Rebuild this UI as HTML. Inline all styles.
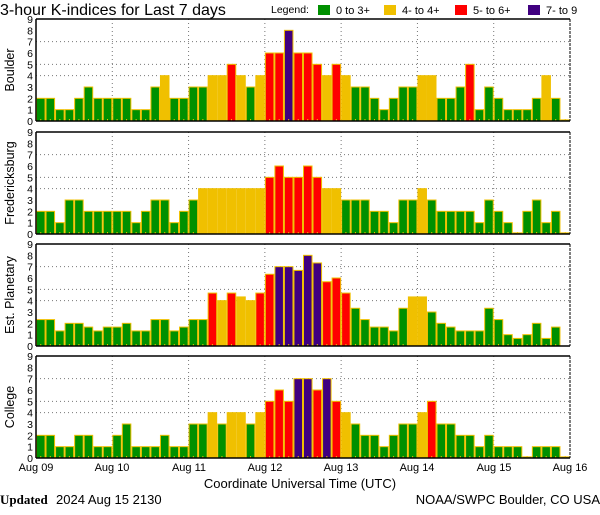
<!DOCTYPE html>
<html><head><meta charset="utf-8"><style>
body{margin:0;background:#fff;}
svg text{font-family:"Liberation Sans",sans-serif;}
</style></head><body>
<svg id="s" width="600" height="510" xmlns="http://www.w3.org/2000/svg">
<text x="0" y="15" font-size="16">3-hour K-indices for Last 7 days</text>
<text x="271" y="13" font-size="10.5">Legend:</text>
<rect x="318" y="5" width="12" height="10" fill="#009000"/><text x="336" y="14" font-size="11">0 to 3+</text>
<rect x="384" y="5" width="12" height="10" fill="#f0c000"/><text x="402" y="14" font-size="11">4- to 4+</text>
<rect x="455" y="5" width="12" height="10" fill="#ff0000"/><text x="473" y="14" font-size="11">5- to 6+</text>
<rect x="528" y="5" width="12" height="10" fill="#400080"/><text x="546" y="14" font-size="11">7- to 9</text>
<g id="g"></g>
<g font-size="11" text-anchor="middle">
<text x="36" y="471">Aug 09</text><text x="112" y="471">Aug 10</text><text x="189" y="471">Aug 11</text><text x="265" y="471">Aug 12</text><text x="341" y="471">Aug 13</text><text x="417" y="471">Aug 14</text><text x="494" y="471">Aug 15</text><text x="570" y="471">Aug 16</text>
</g>
<text x="300" y="488" font-size="13" text-anchor="middle">Coordinate Universal Time (UTC)</text>
<text x="0" y="504" font-size="13" font-family="Liberation Serif" font-weight="bold" style="font-family:'Liberation Serif',serif">Updated</text>
<text x="56" y="504" font-size="13">2024 Aug 15 2130</text>
<text x="600" y="504" font-size="13" text-anchor="end">NOAA/SWPC Boulder, CO USA</text>
</svg>
<script>
var D=[
["Boulder",[2,2,1,1,2,3,2,2, 2,2,1,1,3,4,2,2, 3,3,4,4,5,4,3,4, 6,6,8,6,6,5,4,5, 4,3,3,2,1,2,3,3, 4,4,2,2,3,5,1,3, 2,1,1,1,2,4,2,0.1]],
["Fredericksburg",[2,2,1,3,3,2,2,2, 2,2,1,2,3,3,1,2, 3,4,4,4,4,4,4,4, 5,6,5,5,6,5,4,4, 3,3,3,2,2,1,3,3, 4,3,2,2,2,2,1,3, 2,1,0.1,2,3,1,2,0.1]],
["Est. Planetary",[2.33,2.33,1.33,2,2,1.67,1.33,1.67, 1.67,2,1.33,1.33,2.33,2.33,1.33,1.67, 2.33,2.33,4.67,4,4.67,4.33,4,4.67, 6.33,7,7,6.67,8,7.33,5.67,6, 4.67,3.33,2.33,1.67,1.67,1.33,3.33,4.33, 4.33,3,2,1.67,1.33,1.33,1.33,3.33, 2.33,1,0.67,1,2,0.67,1.67,0]],
["College",[2,2,1,1,2,2,1,1, 2,3,1,1,1,2,1,1, 3,3,4,3,4,4,3,4, 5,6,5,7,7,6,7,5, 4,3,2,2,1,2,3,3, 4,5,3,3,2,2,1,2, 1,1,1,0.1,1,1,1,0.1]]];
var tops=[19,132,244,356],H=102,L=36,R=570,bw=(R-L)/56,u=H/9,s="";
D.forEach(function(p,k){var t=tops[k],b=t+H;
 [7,5,4].forEach(function(v){var y=b-v*u;s+='<line x1="'+L+'" x2="'+R+'" y1="'+y+'" y2="'+y+'" stroke="#777" stroke-dasharray="1,3"/>';});
 for(var d=1;d<7;d++){var x=L+d*8*bw;s+='<line x1="'+x+'" x2="'+x+'" y1="'+t+'" y2="'+b+'" stroke="#777" stroke-dasharray="1,3"/>';}
 p[1].forEach(function(v,i){if(v<=0)return;var c=v>=6.67?"#400080":v>=4.67?"#ff0000":v>=3.67?"#f0c000":"#009000";
  var x=L+i*bw,h=v*u;s+='<rect x="'+(x+0.5)+'" y="'+(b-h)+'" width="'+(bw-1)+'" height="'+h+'" fill="'+c+'" stroke="#f0c000" stroke-width="1"/>';
  s+='<rect x="'+(x+bw/2-0.5)+'" y="'+(b-2)+'" width="1" height="2" fill="#f0c000"/>';});
 s+='<line x1="'+L+'" x2="'+R+'" y1="'+t+'" y2="'+t+'" stroke="#000" stroke-width="1.5"/>';
 s+='<line x1="'+L+'" x2="'+R+'" y1="'+b+'" y2="'+b+'" stroke="#000" stroke-width="1.5"/>';
 s+='<line x1="'+L+'" x2="'+L+'" y1="'+t+'" y2="'+b+'" stroke="#000" stroke-width="1.5"/>';
 s+='<line x1="'+R+'" x2="'+R+'" y1="'+t+'" y2="'+b+'" stroke="#000" stroke-width="1" stroke-dasharray="3,1"/>';
 for(var v=0;v<=9;v++){s+='<text x="33" y="'+(b-v*u+4)+'" font-size="10.5" text-anchor="end">'+v+'</text>';}
 var cy=t+H/2;s+='<text x="0" y="0" font-size="12.5" text-anchor="middle" transform="translate(14,'+cy+') rotate(-90)">'+p[0]+'</text>';
});
document.getElementById("g").innerHTML=s;
</script>
</body></html>
